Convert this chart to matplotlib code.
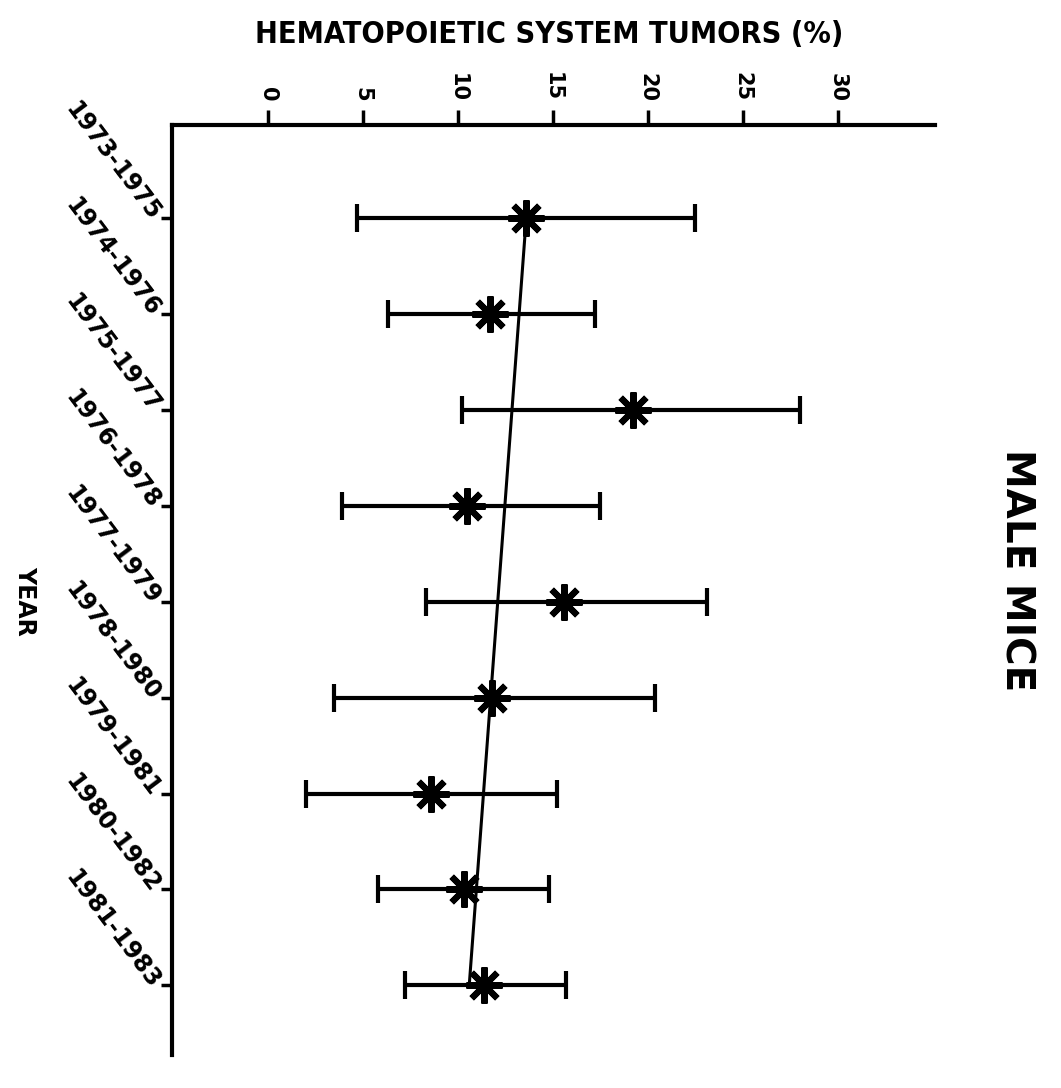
import matplotlib
matplotlib.use('Agg')
import matplotlib.pyplot as plt
import numpy as np

# hematopoietic system tumors (%), male mice, 3-year windows
periods = ['1973-1975', '1974-1976', '1975-1977', '1976-1978', '1977-1979',
           '1978-1980', '1979-1981', '1980-1982', '1981-1983']
pct = [13.6, 11.7, 19.2, 10.5, 15.6, 11.8, 8.6, 10.3, 11.4]
ci_low = [4.7, 6.3, 10.2, 3.9, 8.3, 3.5, 2.0, 5.8, 7.2]
ci_high = [22.5, 17.2, 28.0, 17.5, 23.1, 20.4, 15.2, 14.8, 15.7]
trend = [13.6, 10.6]  # fitted line, first and last period
xticks = [0, 5, 10, 15, 20, 25, 30]

y = np.arange(len(periods))
pct = np.array(pct)
err = [pct - np.array(ci_low), np.array(ci_high) - pct]

fig = plt.figure(figsize=(10.61, 10.88), dpi=100)
ax = fig.add_axes([0.162, 0.030, 0.719, 0.855])

ax.errorbar(pct, y, xerr=err, fmt='none', ecolor='black', elinewidth=3,
            capsize=10, capthick=3)
ax.plot(trend, [y[0], y[-1]], color='black', linewidth=2.2)
ax.plot(pct, y, linestyle='none', marker=(8, 2, 0), markersize=26,
        markeredgewidth=4.5, color='black')

ax.set_xlim(-5.05, 35.1)
ax.set_ylim(8.73, -0.97)

ax.spines['right'].set_visible(False)
ax.spines['bottom'].set_visible(False)
for s in ('top', 'left'):
    ax.spines[s].set_linewidth(3)

ax.xaxis.tick_top()
ax.set_xticks(xticks)
ax.set_xticklabels([str(t) for t in xticks], rotation=-90, fontsize=15,
                   fontweight='bold')
ax.tick_params(axis='x', direction='out', length=11, width=2.5, pad=6)

ax.set_yticks(y)
ax.set_yticklabels(periods, fontsize=17, fontweight='bold', rotation=-53,
                   ha='right', va='center', rotation_mode='anchor')
ax.tick_params(axis='y', direction='out', length=8, width=2.5, pad=4)

fig.text(0.518, 0.968, 'HEMATOPOIETIC SYSTEM TUMORS (%)', ha='center',
         va='center', fontsize=22, fontweight='bold', fontstretch='condensed')
fig.text(0.958, 0.476, 'MALE MICE', rotation=-90, ha='center', va='center',
         fontsize=28, fontweight='bold')
fig.text(0.024, 0.448, 'YEAR', rotation=-90, ha='center', va='center',
         fontsize=17, fontweight='bold')

fig.savefig('out.png', dpi=100)
